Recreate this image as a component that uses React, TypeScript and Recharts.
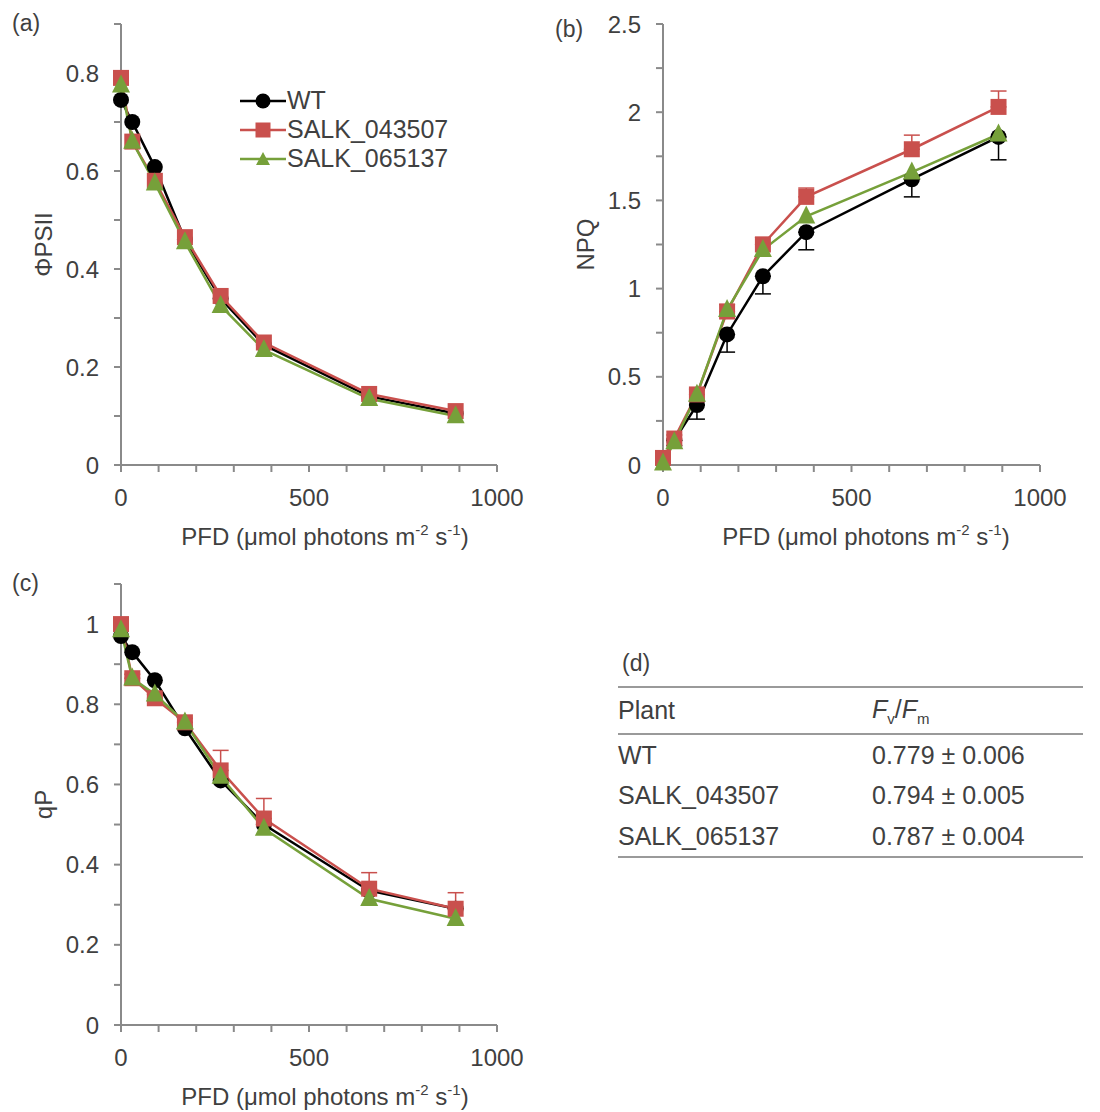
import React from "react"
import { LineChart, Line, XAxis, YAxis, ErrorBar, Legend, Label } from "recharts"

// light intensities (PFD, µmol photons m-2 s-1)
const pfd = [0, 30, 90, 170, 265, 380, 660, 890]

const phiWT = [0.745, 0.7, 0.608, 0.46, 0.34, 0.245, 0.14, 0.105]
const phi043 = [0.79, 0.66, 0.58, 0.465, 0.345, 0.25, 0.145, 0.11]
const phi065 = [0.775, 0.66, 0.575, 0.455, 0.325, 0.235, 0.135, 0.1]

const npqWT = [0.02, 0.14, 0.34, 0.74, 1.07, 1.32, 1.62, 1.86]
const npq043 = [0.04, 0.15, 0.4, 0.87, 1.25, 1.52, 1.79, 2.03]
const npq065 = [0.01, 0.13, 0.4, 0.88, 1.22, 1.41, 1.66, 1.875]
const npqWTErr = [0.01, 0.03, 0.08, 0.1, 0.1, 0.1, 0.1, 0.13]
const npq043Err = [0.01, 0.02, 0.03, 0.04, 0.04, 0.05, 0.08, 0.09]

const qpWT = [0.97, 0.93, 0.86, 0.74, 0.61, 0.5, 0.335, 0.29]
const qp043 = [1.0, 0.865, 0.815, 0.755, 0.635, 0.515, 0.34, 0.29]
const qp065 = [0.985, 0.865, 0.825, 0.755, 0.62, 0.49, 0.315, 0.265]
const qp043Err = [0, 0.01, 0.01, 0.01, 0.05, 0.05, 0.04, 0.04]

const plants = ["WT", "SALK_043507", "SALK_065137"]
const fvfm = ["0.779 ± 0.006", "0.794 ± 0.005", "0.787 ± 0.004"]

const xTicks = [0, 100, 200, 300, 400, 500, 600, 700, 800, 900, 1000]
const phiTicks = [0, 0.1, 0.2, 0.3, 0.4, 0.5, 0.6, 0.7, 0.8, 0.9]
const npqTicks = [0, 0.25, 0.5, 0.75, 1, 1.25, 1.5, 1.75, 2, 2.25, 2.5]
const qpTicks = [0, 0.1, 0.2, 0.3, 0.4, 0.5, 0.6, 0.7, 0.8, 0.9, 1, 1.1]

const BLACK = "#000000"
const RED = "#c9504d"
const GREEN = "#76a03a"
const AXIS = "#8a8a8a"
const TEXT = "#404040"
const FONT = "'Liberation Sans', Arial, sans-serif"

const rows = (wt: number[], a: number[], b: number[], wtErr?: number[], aErr?: number[]) =>
  pfd.map((x, i) => ({
    pfd: x,
    wt: wt[i],
    s043: a[i],
    s065: b[i],
    wtErr: [wtErr ? wtErr[i] : 0, 0],
    s043Err: [0, aErr ? aErr[i] : 0],
  }))

const circleDot = (r: number) => (p: any) =>
  <circle key={`c-${p.index}`} cx={p.cx} cy={p.cy} r={r} fill={BLACK} />
const squareDot = (s: number) => (p: any) =>
  <rect key={`s-${p.index}`} x={p.cx - s / 2} y={p.cy - s / 2} width={s} height={s} fill={RED} />
const triDot = (s: number) => (p: any) => (
  <polygon
    key={`t-${p.index}`}
    points={`${p.cx},${p.cy - s * 0.6} ${p.cx - s / 2},${p.cy + s * 0.4} ${p.cx + s / 2},${p.cy + s * 0.4}`}
    fill={GREEN}
  />
)

const LegendBox = () => {
  const items = [
    { name: "WT", color: BLACK, kind: "c" },
    { name: "SALK_043507", color: RED, kind: "s" },
    { name: "SALK_065137", color: GREEN, kind: "t" },
  ]
  return (
    <div style={{ fontFamily: FONT, fontSize: 25, color: TEXT }}>
      {items.map((it) => (
        <div key={it.name} style={{ display: "flex", alignItems: "center", height: 29 }}>
          <svg width={46} height={20} style={{ marginRight: 1 }}>
            <line x1={0} y1={10} x2={46} y2={10} stroke={it.color} strokeWidth={2.5} />
            {it.kind === "c" && <circle cx={23} cy={10} r={7.5} fill={it.color} />}
            {it.kind === "s" && <rect x={15.5} y={2.5} width={15} height={15} fill={it.color} />}
            {it.kind === "t" && <polygon points="23,3 16,16 30,16" fill={it.color} />}
          </svg>
          <span>{it.name}</span>
        </div>
      ))}
    </div>
  )
}

const XLabel = ({ viewBox, dx }: any) => {
  const { x, y } = viewBox
  return (
    <text x={x + dx} y={y + 80} textAnchor="middle" fontFamily={FONT} fontSize={24} fill={TEXT}>
      PFD (μmol photons m
      <tspan fontSize={15} dy={-10}>-2</tspan>
      <tspan dy={10}> s</tspan>
      <tspan fontSize={15} dy={-10}>-1</tspan>
      <tspan dy={10}>)</tspan>
    </text>
  )
}

const YLabel = ({ viewBox, text, cx }: any) => {
  const { y, height } = viewBox
  const cy = y + height / 2
  return (
    <text
      x={cx}
      y={cy}
      transform={`rotate(-90, ${cx}, ${cy})`}
      textAnchor="middle"
      dominantBaseline="central"
      fontFamily={FONT}
      fontSize={24}
      fill={TEXT}
    >
      {text}
    </text>
  )
}

type PanelProps = {
  data: any[]
  yTicks: number[]
  yMax: number
  yFmt: (v: number) => string
  yLabel: string
  yLabelX: number
  left: number
  right: number
  xLabelDx: number
  height: number
  bottom: number
  errWT?: boolean
  err043?: boolean
  legend?: boolean
}

const tickStyle = { fontFamily: FONT, fontSize: 24, fill: TEXT }
const tickLineStyle = { stroke: AXIS, strokeWidth: 2 }

function Panel(p: PanelProps) {
  return (
    <LineChart
      width={550}
      height={p.height}
      data={p.data}
      margin={{ top: 24, right: p.right, bottom: p.bottom, left: p.left - 70 }}
    >
      <XAxis
        dataKey="pfd"
        type="number"
        domain={[0, 1000]}
        ticks={xTicks}
        interval={0}
        tickFormatter={(v: number) => (v % 500 === 0 ? String(v) : "")}
        stroke={AXIS}
        strokeWidth={2}
        tickLine={tickLineStyle}
        tickSize={7}
        tickMargin={17}
        tick={tickStyle}
        height={30}
      >
        <Label content={<XLabel dx={p.xLabelDx} />} />
      </XAxis>
      <YAxis
        type="number"
        domain={[0, p.yMax]}
        ticks={p.yTicks}
        interval={0}
        tickFormatter={p.yFmt}
        stroke={AXIS}
        strokeWidth={2}
        tickLine={tickLineStyle}
        tickSize={7}
        tickMargin={15}
        tick={tickStyle}
        width={70}
      >
        <Label content={<YLabel text={p.yLabel} cx={p.yLabelX} />} />
      </YAxis>
      <Line dataKey="wt" stroke={BLACK} strokeWidth={2.5} dot={circleDot(8)} isAnimationActive={false}>
        {p.errWT && <ErrorBar dataKey="wtErr" width={8} stroke={BLACK} strokeWidth={1.5} direction="y" />}
      </Line>
      <Line dataKey="s043" stroke={RED} strokeWidth={2.5} dot={squareDot(16)} isAnimationActive={false}>
        {p.err043 && <ErrorBar dataKey="s043Err" width={8} stroke={RED} strokeWidth={1.5} direction="y" />}
      </Line>
      <Line dataKey="s065" stroke={GREEN} strokeWidth={2.5} dot={triDot(18)} isAnimationActive={false} />
      {p.legend && (
        <Legend
          layout="vertical"
          align="center"
          verticalAlign="middle"
          content={<LegendBox />}
          wrapperStyle={{ left: 240, top: 86, width: 260, height: 90 }}
        />
      )}
    </LineChart>
  )
}

const fmtEven = (v: number) => (Math.round(v * 10) % 2 === 0 ? String(Math.round(v * 10) / 10) : "")
const fmtHalf = (v: number) => (Math.round(v * 4) % 2 === 0 ? String(v) : "")

const panelLetter = (t: string, x: number, y: number) => (
  <div style={{ position: "absolute", left: x, top: y, fontFamily: FONT, fontSize: 23, color: TEXT, lineHeight: "26px" }}>
    {t}
  </div>
)

export default function App() {
  const cell: React.CSSProperties = { padding: 0, textAlign: "left", fontWeight: "normal" }
  return (
    <div style={{ position: "absolute", left: 0, top: 0, width: 1100, height: 1112, background: "#fff", overflow: "hidden" }}>
      <div style={{ position: "absolute", left: 0, top: 0 }}>
        <Panel
          data={rows(phiWT, phi043, phi065)}
          yTicks={phiTicks}
          yMax={0.9}
          yFmt={fmtEven}
          yLabel="ΦPSII"
          yLabelX={43}
          left={121}
          right={53}
          xLabelDx={204}
          height={560}
          bottom={65}
          legend
        />
      </div>
      <div style={{ position: "absolute", left: 550, top: 0 }}>
        <Panel
          data={rows(npqWT, npq043, npq065, npqWTErr, npq043Err)}
          yTicks={npqTicks}
          yMax={2.5}
          yFmt={fmtHalf}
          yLabel="NPQ"
          yLabelX={35}
          left={113}
          right={60}
          xLabelDx={203}
          height={560}
          bottom={65}
          errWT
          err043
        />
      </div>
      <div style={{ position: "absolute", left: 0, top: 560 }}>
        <Panel
          data={rows(qpWT, qp043, qp065, undefined, qp043Err)}
          yTicks={qpTicks}
          yMax={1.1}
          yFmt={fmtEven}
          yLabel="qP"
          yLabelX={43}
          left={121}
          right={53}
          xLabelDx={204}
          height={552}
          bottom={57}
          err043
        />
      </div>
      {panelLetter("(a)", 12, 10)}
      {panelLetter("(b)", 555, 16)}
      {panelLetter("(c)", 12, 570)}
      {panelLetter("(d)", 622, 650)}
      <div style={{ position: "absolute", left: 618, top: 686, width: 465 }}>
        <table style={{ width: "100%", borderCollapse: "collapse", fontFamily: FONT, fontSize: 25, color: TEXT }}>
          <thead>
            <tr style={{ borderTop: "2px solid #9a9a9a", borderBottom: "2px solid #9a9a9a", height: 47 }}>
              <th style={{ ...cell, width: 254 }}>Plant</th>
              <th style={cell}>
                <i>F</i>
                <sub style={{ fontSize: 15 }}>v</sub>/<i>F</i>
                <sub style={{ fontSize: 15 }}>m</sub>
              </th>
            </tr>
          </thead>
          <tbody>
            {plants.map((pl, i) => (
              <tr
                key={pl}
                style={{ height: 41, borderBottom: i === plants.length - 1 ? "2px solid #9a9a9a" : "none" }}
              >
                <td style={cell}>{pl}</td>
                <td style={cell}>{fvfm[i]}</td>
              </tr>
            ))}
          </tbody>
        </table>
      </div>
    </div>
  )
}
